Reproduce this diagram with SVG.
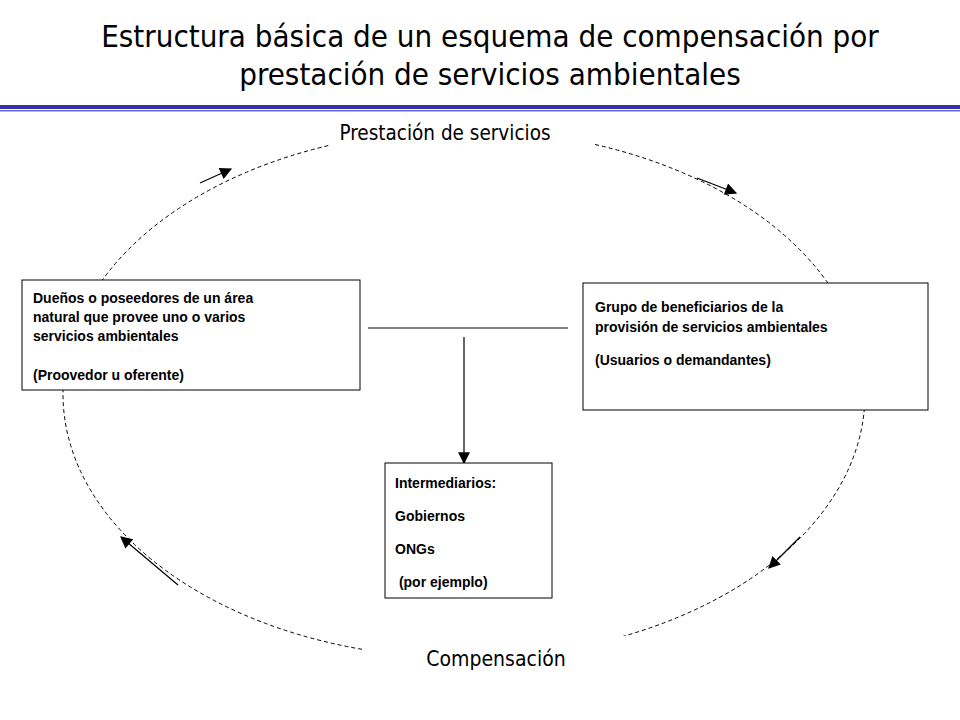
<svg xmlns="http://www.w3.org/2000/svg" width="960" height="720" viewBox="0 0 960 720">
<style>
.t{font-family:"DejaVu Sans Condensed","DejaVu Sans",sans-serif;fill:#000}
.b{font-family:"Liberation Sans",Arial,sans-serif;font-weight:bold;font-size:14px;fill:#000}
.box{fill:#fff;stroke:#000;stroke-width:1}
.ar{stroke:#000;stroke-width:1.2;fill:none;marker-end:url(#ah)}
</style>
<defs><marker id="ah" viewBox="0 0 10 10" refX="9" refY="5" markerWidth="13" markerHeight="12" markerUnits="userSpaceOnUse" orient="auto"><path d="M0,0L10,5L0,10z" fill="#000"/></marker></defs>
<rect width="960" height="720" fill="#fff"/>
<text class="t" x="490" y="47" font-size="31" text-anchor="middle">Estructura básica de un esquema de compensación por</text>
<text class="t" x="490" y="85" font-size="31" text-anchor="middle">prestación de servicios ambientales</text>
<rect x="0" y="105" width="960" height="4" fill="#3333aa"/>
<rect x="0" y="110" width="960" height="1.5" fill="#6666cc"/>
<g id="connectors">
<ellipse cx="464" cy="394" rx="401" ry="264" fill="none" stroke="#000" stroke-width="1" stroke-dasharray="4,3"/>
<rect x="330" y="118" width="265" height="30" fill="#fff"/>
<rect x="362" y="636" width="270" height="40" fill="#fff"/>
<line class="ar" x1="200" y1="183" x2="231" y2="169"/>
<line class="ar" x1="697" y1="178" x2="736" y2="193"/>
<line class="ar" x1="178" y1="585" x2="121" y2="537"/>
<line class="ar" x1="800" y1="537" x2="769" y2="568"/>
<line x1="368" y1="328" x2="568" y2="328" stroke="#000"/>
<line class="ar" x1="464" y1="337" x2="464" y2="463"/>
</g>
<text class="t" x="445" y="140" font-size="20.5" text-anchor="middle">Prestación de servicios</text>
<text class="t" x="496" y="666" font-size="21" text-anchor="middle">Compensación</text>
<g id="provider"><rect class="box" x="22" y="280" width="338" height="110"/>
<text class="b" x="33" y="303">Dueños o poseedores de un área</text>
<text class="b" x="33" y="322">natural que provee uno o varios</text>
<text class="b" x="33" y="341">servicios ambientales</text>
<text class="b" x="33" y="380">(Proovedor u oferente)</text></g>
<g id="beneficiaries"><rect class="box" x="583" y="283" width="345" height="127"/>
<text class="b" x="595" y="312">Grupo de beneficiarios de la</text>
<text class="b" x="595" y="332">provisión de servicios ambientales</text>
<text class="b" x="595" y="365">(Usuarios o demandantes)</text></g>
<g id="intermediaries"><rect class="box" x="385" y="463" width="167" height="135"/>
<text class="b" x="395" y="488">Intermediarios:</text>
<text class="b" x="395" y="521">Gobiernos</text>
<text class="b" x="395" y="554">ONGs</text>
<text class="b" x="395" y="587" xml:space="preserve"> (por ejemplo)</text></g>
</svg>
